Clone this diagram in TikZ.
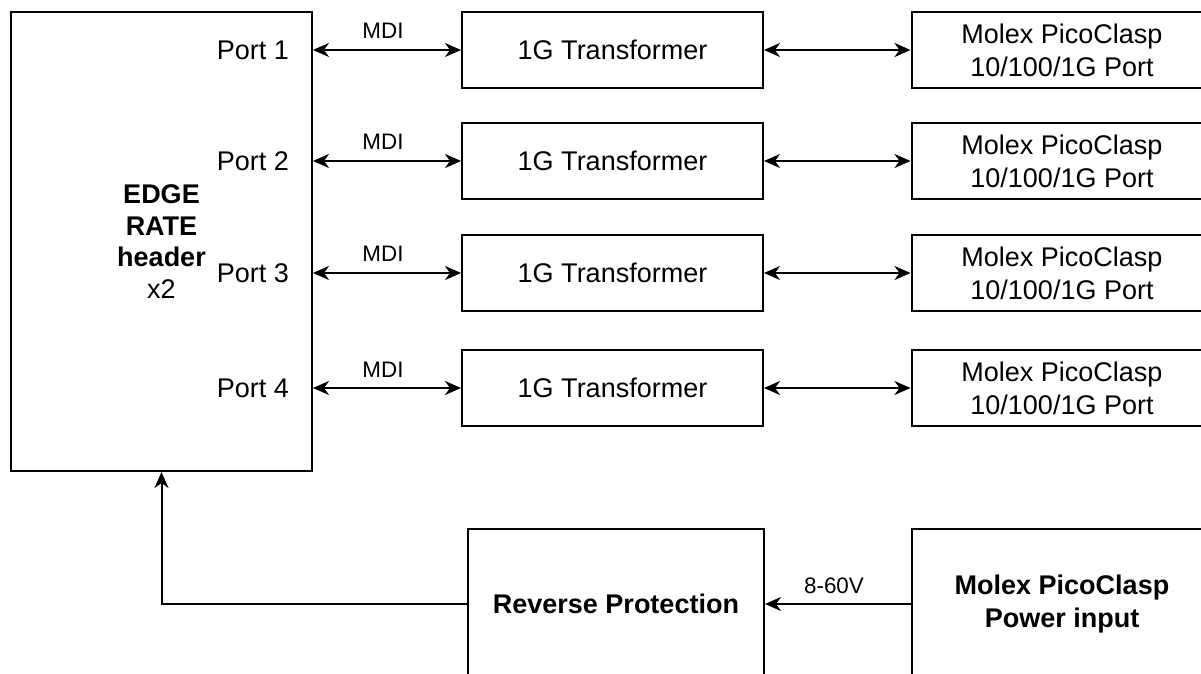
\documentclass[tikz,border=0pt]{standalone}
\usepackage{fontspec}
\setmainfont{Liberation Sans}
\usetikzlibrary{arrows.meta}

\begin{document}
\begin{tikzpicture}[>={Stealth[length=8pt,width=7pt,inset=2.5pt]}, x=0.5pt, y=-0.5pt, line width=1pt,
	block/.style={draw, inner sep=0pt, minimum width=150.5pt, minimum height=38pt,
		align=center, font=\fontsize{13.5}{16.5}\selectfont},
	portlabel/.style={anchor=east, inner sep=0pt, font=\fontsize{13.5}{16.5}\selectfont},
	linklabel/.style={anchor=base, inner sep=0pt, yshift=5.5pt, xshift=-2pt,
		font=\fontsize{11.2}{12}\selectfont}]
		\useasboundingbox (0,0) rectangle (1201,674);
		\clip (0,0) rectangle (1201,674);
		% header block with its ports
		\node[block, minimum height=229.5pt, font=\fontsize{13.5}{15.8}\selectfont] (edge) at (161.5,241.5)
		{\textbf{EDGE}\\\textbf{RATE}\\\textbf{header}\\x2};
		\node[portlabel] (p1) at (290,50) {Port 1};
		\node[portlabel] (p2) at (290,161) {Port 2};
		\node[portlabel] (p3) at (290,273) {Port 3};
		\node[portlabel] (p4) at (290,388) {Port 4};
		% transformers
		\node[block] (tr1) at (612.5,50) {1G Transformer};
		\node[block] (tr2) at (612.5,161) {1G Transformer};
		\node[block] (tr3) at (612.5,273) {1G Transformer};
		\node[block] (tr4) at (612.5,388) {1G Transformer};
		% connectors
		\node[block] (mx1) at (1062,50) {Molex PicoClasp\\10/100/1G Port};
		\node[block] (mx2) at (1062,161) {Molex PicoClasp\\10/100/1G Port};
		\node[block] (mx3) at (1062,273) {Molex PicoClasp\\10/100/1G Port};
		\node[block] (mx4) at (1062,388) {Molex PicoClasp\\10/100/1G Port};
		% power
		\node[block, minimum width=148pt, minimum height=75pt] (rev) at (616,604)
		{\textbf{Reverse Protection}};
		\node[block, minimum width=150pt, minimum height=75pt] (pwr) at (1062,604)
		{\textbf{Molex PicoClasp}\\\textbf{Power input}};
		\draw[<->] (edge.east |- tr1) -- (tr1.west) node[linklabel, midway] {MDI};
		\draw[<->] (edge.east |- tr2) -- (tr2.west) node[linklabel, midway] {MDI};
		\draw[<->] (edge.east |- tr3) -- (tr3.west) node[linklabel, midway] {MDI};
		\draw[<->] (edge.east |- tr4) -- (tr4.west) node[linklabel, midway] {MDI};
		\draw[<->] (tr1.east) -- (mx1.west);
		\draw[<->] (tr2.east) -- (mx2.west);
		\draw[<->] (tr3.east) -- (mx3.west);
		\draw[<->] (tr4.east) -- (mx4.west);
		\draw[->] (pwr.west) -- (rev.east) node[linklabel, midway] {8-60V};
		\draw[->] (rev.west) -| (edge.south);
	\end{tikzpicture}
\end{document}
